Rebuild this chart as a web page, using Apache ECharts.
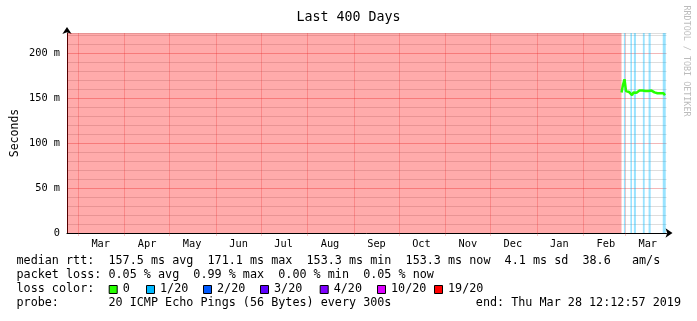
<!DOCTYPE html>
<html><head><meta charset="utf-8">
<script src="https://cdn.jsdelivr.net/npm/echarts@6/dist/echarts.min.js"></script>
<style>html,body{margin:0;padding:0;background:#fff}#c{width:697px;height:321px}</style>
</head><body><div id="c"></div>
<script>
// ---------------- data ----------------
const titleText = 'Last 400 Days';
const rangeStart = '2018-02-21T12:12:57Z';
const rangeEnd = '2019-03-28T12:12:57Z';
const monthStarts = ['2018-03-01','2018-04-01','2018-05-01','2018-06-01','2018-07-01','2018-08-01',
  '2018-09-01','2018-10-01','2018-11-01','2018-12-01','2019-01-01','2019-02-01','2019-03-01'];
const monthLabels = ['Mar','Apr','May','Jun','Jul','Aug','Sep','Oct','Nov','Dec','Jan','Feb','Mar'];
const yTicks = [0, 50, 100, 150, 200];
const yTickLabels = ['0', '50 m', '100 m', '150 m', '200 m'];
const yMax = 222.6;

const sampleDates = ['2019-02-26','2019-02-27','2019-02-28','2019-03-01','2019-03-02','2019-03-03',
  '2019-03-04','2019-03-05','2019-03-06','2019-03-07','2019-03-08','2019-03-09','2019-03-10',
  '2019-03-11','2019-03-12','2019-03-13','2019-03-14','2019-03-15','2019-03-16','2019-03-17',
  '2019-03-18','2019-03-19','2019-03-20','2019-03-21','2019-03-22','2019-03-23','2019-03-24',
  '2019-03-25','2019-03-26','2019-03-27'];
const medianRtt = [156.5,165,171.1,158,156.5,157,156,153.3,156.5,157,156,157,158.5,157.5,158.5,
  159,158,158.5,158,157,158.5,157.5,156.5,155.5,155.5,156,155.5,156,155.5,153.3];
const smokeLo = [155.5,160,165,156.5,155.5,155.5,155,152.8,155.5,156,155,156,157,156.5,157.5,
  158,157,157.5,157,156,157.5,156.5,155.5,154.5,154.5,155,154.5,155,154.5,152.8];
const smokeHi = [160,172,176,162,161,161.5,160.5,158,161,161.5,160.5,161.5,162.5,162,163,
  163.5,162.5,163,162.5,161.5,163,162,161,160,160,160.5,160,160.5,160,157.5];

const lossLevels = ['0','1/20','2/20','3/20','4/20','10/20','19/20'];
const lossColors = ['#26ff00','#00b8ff','#0059ff','#5e00ff','#7e00ff','#dd00ff','#ff0000'];
// periods with packet loss: [from, to, loss level]
const lossPeriods = [
  ['2018-02-21T12:12:57Z','2019-02-26T12:00:00Z','19/20'],
  ['2019-02-28T02:00:00Z','2019-02-28T23:00:00Z','1/20'],
  ['2019-03-04T10:00:00Z','2019-03-05T12:00:00Z','1/20'],
  ['2019-03-06T18:00:00Z','2019-03-08T03:00:00Z','1/20'],
  ['2019-03-12T18:00:00Z','2019-03-13T23:00:00Z','1/20'],
  ['2019-03-16T13:00:00Z','2019-03-17T23:00:00Z','1/20'],
  ['2019-03-26T00:00:00Z','2019-03-28T00:00:00Z','1/20']
];

const rttStats = [157.5, 171.1, 153.3, 153.3, 4.1];   // avg max min now sd (ms)
const rttAmS = 38.6;
const lossStats = [0.05, 0.99, 0.00, 0.05];          // avg max min now (%)
const probeText = '20 ICMP Echo Pings (56 Bytes) every 300s';
const endText = 'Thu Mar 28 12:12:57 2019';

// ---------------- build ----------------
const DAY = 86400000;
const ts = s => Date.parse(s.length === 10 ? s + 'T12:00:00Z' : s);
const t0 = ts(rangeStart), t1 = ts(rangeEnd);
const monthTs = monthStarts.map(d => Date.parse(d + 'T00:00:00Z'));
const labelTs = monthTs.map(t => t + 15 * DAY);
const MONO = '"DejaVu Sans Mono", monospace';

const baseData = sampleDates.map((d, i) => [ts(d), smokeLo[i]]);
const bandData = sampleDates.map((d, i) => [ts(d), +(smokeHi[i] - smokeLo[i]).toFixed(2)]);
const lineData = sampleDates.map((d, i) => [ts(d), medianRtt[i]]);

function alphaColor(hex, a) {
  const n = parseInt(hex.slice(1), 16);
  return `rgba(${n >> 16},${(n >> 8) & 255},${n & 255},${a})`;
}
const markAreas = lossPeriods.map(p => {
  const c = lossColors[lossLevels.indexOf(p[2])];
  return [{ xAxis: ts(p[0]), itemStyle: { color: alphaColor(c, p[2] === '19/20' ? 0.33 : 0.4) } }, { xAxis: ts(p[1]) }];
});
const pieces = lossPeriods.filter(p => p[2] !== '19/20').map(p => ({
  gte: ts(p[0]), lte: ts(p[1]), color: lossColors[lossLevels.indexOf(p[2])]
}));

const majorGrid = 'rgba(222,48,48,0.35)';
const majorGridV = 'rgba(222,48,48,0.25)';
const minorGrid = 'rgba(143,143,143,0.3)';

// legend/stat text lines
const f1 = v => v.toFixed(1), f2 = v => v.toFixed(2);
const line1 = `median rtt:  ${f1(rttStats[0])} ms avg  ${f1(rttStats[1])} ms max  ${f1(rttStats[2])} ms min  ${f1(rttStats[3])} ms now  ${f1(rttStats[4])} ms sd  ${f1(rttAmS)}   am/s`;
const line2 = `packet loss: ${f2(lossStats[0])} % avg  ${f2(lossStats[1])} % max  ${f2(lossStats[2])} % min  ${f2(lossStats[3])} % now`;
const legendFont = '11.75px ' + MONO;
const textEl = (text, x, y, extra) => ({
  type: 'text', x, y, silent: true,
  style: Object.assign({ text, font: legendFont, fill: '#000', textVerticalAlign: 'middle', verticalAlign: 'middle', textAlign: 'left', align: 'left' }, extra || {})
});
const legendLabelX = [122.7, 160, 217, 274, 333.7, 391, 448];
const graphics = [
  textEl(line1, 16.5, 261),
  textEl(line2, 16.5, 275),
  textEl('loss color:', 16.5, 289),
  textEl('probe:       ' + probeText, 16.5, 303),
  textEl('end: ' + endText, 681, 303, { textAlign: 'right', align: 'right' }),
  { type: 'text', x: 15, y: 133, rotation: Math.PI / 2, silent: true,
    style: { text: 'Seconds', font: '11.5px ' + MONO, fill: '#000', textAlign: 'center', align: 'center', textVerticalAlign: 'middle', verticalAlign: 'middle' } },
  { type: 'text', x: 686, y: 61, rotation: -Math.PI / 2, silent: true,
    style: { text: 'RRDTOOL / TOBI OETIKER', font: '8.4px ' + MONO, fill: '#bcbcbc', textAlign: 'center', align: 'center', textVerticalAlign: 'middle', verticalAlign: 'middle' } }
];
lossLevels.forEach((lv, i) => {
  graphics.push({ type: 'rect', silent: true, shape: { x: legendLabelX[i] - 13.5, y: 285.5, width: 8, height: 8 },
    style: { fill: lossColors[i], stroke: '#000', lineWidth: 1 } });
  graphics.push(textEl(lv, legendLabelX[i], 289));
});

const chart = echarts.init(document.getElementById('c'), null, { renderer: 'canvas' });
chart.setOption({
  animation: false,
  backgroundColor: '#fff',
  title: { text: titleText, left: 'center', top: 6,
    textStyle: { fontFamily: MONO, fontSize: 13.3, fontWeight: 'normal', color: '#000' } },
  grid: { left: 67, top: 33, width: 599.5, height: 200, containLabel: false },
  xAxis: {
    type: 'value', min: t0, max: t1, scale: true,
    axisLine: { show: true, lineStyle: { color: '#000', width: 1 }, symbol: ['none', 'arrow'], symbolSize: [7, 7], symbolOffset: [0, 6] },
    axisTick: { show: true, customValues: monthTs, length: 3, lineStyle: { color: majorGridV } },
    axisLabel: { customValues: labelTs, formatter: v => monthLabels[labelTs.indexOf(v)] || '',
      fontFamily: MONO, fontSize: 10.3, color: '#000', margin: 6, hideOverlap: false },
    splitLine: { show: true, lineStyle: { color: majorGridV, width: 1 } }
  },
  yAxis: {
    type: 'value', min: 0, max: yMax, interval: 10,
    axisLine: { show: true, lineStyle: { color: '#000', width: 1 }, symbol: ['none', 'arrow'], symbolSize: [7, 7], symbolOffset: [0, 6] },
    axisTick: { show: false },
    axisLabel: { formatter: v => { const i = yTicks.indexOf(Math.round(v * 1000) / 1000); return i >= 0 ? yTickLabels[i] : ''; },
      fontFamily: MONO, fontSize: 10.3, color: '#000', margin: 7, hideOverlap: false },
    splitLine: { show: true, lineStyle: { color: [majorGrid, minorGrid, minorGrid, minorGrid, minorGrid], width: 1 } }
  },
  visualMap: { type: 'piecewise', show: false, seriesIndex: 3, dimension: 0, pieces,
    outOfRange: { color: lossColors[0] } },
  series: [
    { type: 'line', data: [], symbol: 'none', silent: true, z: 0,
      markArea: { silent: true, label: { show: false }, data: markAreas } },
    { type: 'line', stack: 'smoke', data: baseData, symbol: 'none', silent: true,
      lineStyle: { width: 0, opacity: 0 }, z: 2 },
    { type: 'line', stack: 'smoke', data: bandData, symbol: 'none', silent: true,
      lineStyle: { width: 0, opacity: 0 }, areaStyle: { color: '#b5b5b5', opacity: 1 }, z: 3 },
    { type: 'line', data: lineData, symbol: 'none', silent: true,
      lineStyle: { width: 2.5, color: lossColors[0] }, z: 4 }
  ],
  graphic: graphics
});
</script></body></html>
